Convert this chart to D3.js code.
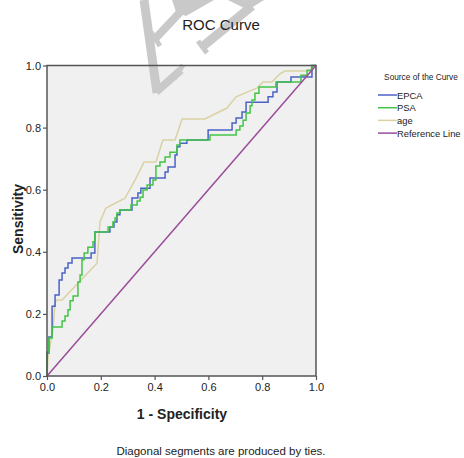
<!DOCTYPE html>
<html>
<head>
<meta charset="utf-8">
<script src="https://cdn.jsdelivr.net/npm/d3@7"></script>
<style>
  body { margin: 0; background: #fff; }
  text { font-family: "Liberation Sans", Arial, sans-serif; fill: #222; }
</style>
</head>
<body>
<div id="chart"></div>
<script>
// ROC points: [1 - specificity, sensitivity]
var epca = [[0,0],[0,.074],[.007,.074],[.007,.126],[.019,.126],[.019,.225],[.030,.225],[.030,.261],
  [.045,.261],[.045,.309],[.056,.309],[.056,.332],[.067,.332],[.067,.348],[.078,.348],[.078,.364],
  [.093,.364],[.093,.380],[.164,.380],[.164,.396],[.178,.396],[.178,.464],[.234,.464],[.234,.480],
  [.249,.480],[.249,.496],[.260,.496],[.260,.519],[.271,.519],[.271,.535],[.316,.535],[.316,.573],
  [.338,.573],[.338,.589],[.349,.589],[.349,.605],[.383,.605],[.383,.638],[.439,.638],[.439,.657],
  [.450,.657],[.450,.673],[.476,.673],[.476,.712],[.483,.712],[.483,.738],[.494,.738],[.494,.750],
  [.520,.750],[.520,.760],[.599,.760],[.599,.792],[.688,.792],[.688,.815],[.703,.815],[.703,.831],
  [.725,.831],[.725,.850],[.740,.850],[.740,.882],[.822,.882],[.822,.899],[.840,.899],[.840,.915],
  [.855,.915],[.855,.947],[.907,.947],[.907,.963],[.985,.963],[.985,1],[1,1]];

var psa = [[0,0],[0,.077],[.007,.077],[.007,.122],[.019,.122],[.019,.158],[.056,.158],[.056,.177],
  [.067,.177],[.067,.193],[.078,.193],[.078,.213],[.086,.213],[.086,.242],[.097,.242],[.097,.258],
  [.115,.258],[.115,.303],[.123,.303],[.123,.325],[.130,.325],[.130,.374],[.138,.374],[.138,.396],
  [.152,.396],[.152,.415],[.171,.415],[.171,.432],[.178,.432],[.178,.464],[.227,.464],[.227,.480],
  [.245,.480],[.245,.496],[.253,.496],[.253,.509],[.260,.509],[.260,.525],[.271,.525],[.271,.535],
  [.312,.535],[.312,.551],[.335,.551],[.335,.564],[.346,.564],[.346,.576],[.357,.576],[.357,.599],
  [.372,.599],[.372,.615],[.394,.615],[.394,.631],[.405,.631],[.405,.676],[.420,.676],[.420,.689],
  [.439,.689],[.439,.705],[.457,.705],[.457,.721],[.483,.721],[.483,.744],[.494,.744],[.494,.760],
  [.606,.760],[.606,.776],[.703,.776],[.703,.792],[.717,.792],[.717,.805],[.729,.805],[.729,.824],
  [.740,.824],[.740,.847],[.755,.847],[.755,.870],[.762,.870],[.762,.889],[.773,.889],[.773,.911],
  [.788,.911],[.788,.931],[.851,.931],[.851,.947],[.944,.947],[.944,.969],[.967,.969],[.967,.985],
  [.985,.985],[.985,1],[1,1]];

var age = [[0,0],[.004,.061],[.022,.148],[.030,.238],[.037,.245],[.056,.245],[.186,.363],[.197,.496],
  [.219,.541],[.290,.573],[.327,.631],[.361,.689],[.405,.689],[.431,.760],[.476,.760],[.502,.828],
  [.587,.828],[.669,.863],[.703,.899],[.781,.928],[.803,.947],[.836,.947],[.866,.973],[.885,.982],
  [.978,.982],[.985,.998],[1,1]];

var refLine = [[0,0],[1,1]];

var seriesNames = ["EPCA", "PSA", "age", "Reference Line"];
var seriesColors = ["#4b63c6", "#43c447", "#d9d2a3", "#9a4c9c"];
var tickValues = [0, 0.2, 0.4, 0.6, 0.8, 1.0];

var width = 464, height = 458;
var svg = d3.select("#chart").append("svg")
  .attr("width", width).attr("height", height);

var x = d3.scaleLinear().domain([0, 1]).range([47, 316]);
var y = d3.scaleLinear().domain([0, 1]).range([376, 65.5]);

//PLOT BACKGROUND
svg.append("rect")
  .attr("x", x(0)).attr("y", y(1))
  .attr("width", x(1) - x(0)).attr("height", y(0) - y(1))
  .attr("fill", "#f0f0f0");

//WATERMARK (grey strokes behind the title)
var wm = svg.append("g").attr("fill", "none").attr("stroke", "#c9c9c9")
  .attr("stroke-linecap", "butt");
wm.append("path").attr("d", "M144,0 L157,93").attr("stroke-width", 9);
wm.append("path").attr("d", "M156,92 L181,70").attr("stroke-width", 8);
wm.append("path").attr("d", "M154,40 L184,8").attr("stroke-width", 8);
wm.append("path").attr("d", "M151,32 L160,46").attr("stroke-width", 5);
wm.append("path").attr("d", "M202,47 L252,6").attr("stroke-width", 9);
wm.append("path").attr("d", "M198,41 L207,53").attr("stroke-width", 5);
wm.append("path").attr("d", "M174,79 L183,65").attr("stroke-width", 5);
wm.append("polygon").attr("points", "172,0 214,0 186,16 176,12")
  .attr("fill", "#c9c9c9").attr("stroke", "none");
wm.append("polygon").attr("points", "228,0 264,0 248,10")
  .attr("fill", "#c9c9c9").attr("stroke", "none");

//CURVES
var line = d3.line()
  .x(function(d){ return x(d[0]); })
  .y(function(d){ return y(d[1]); });

var allSeries = [epca, psa, age, refLine];
// draw age first so the step curves sit on top
[2, 0, 1, 3].forEach(function(i){
  svg.append("path")
    .datum(allSeries[i])
    .attr("d", line)
    .attr("fill", "none")
    .attr("stroke", seriesColors[i])
    .attr("stroke-width", 1.5);
});

//FRAME
svg.append("rect")
  .attr("x", x(0)).attr("y", y(1))
  .attr("width", x(1) - x(0)).attr("height", y(0) - y(1))
  .attr("fill", "none").attr("stroke", "#555").attr("stroke-width", 1.5);

//AXES
var fmt = d3.format(".1f");
var xAxis = svg.append("g")
  .attr("transform", "translate(0," + y(0) + ")")
  .call(d3.axisBottom(x).tickValues(tickValues).tickFormat(fmt).tickSize(4).tickPadding(3));
var yAxis = svg.append("g")
  .attr("transform", "translate(" + x(0) + ",0)")
  .call(d3.axisLeft(y).tickValues(tickValues).tickFormat(fmt).tickSize(4).tickPadding(2));
[xAxis, yAxis].forEach(function(a){
  a.select(".domain").remove();
  a.selectAll("line").attr("stroke", "#555").attr("stroke-width", 1.2);
  a.selectAll("text").style("font-family", "'Liberation Sans', Arial, sans-serif")
    .style("font-size", "11px").attr("fill", "#333");
});

//TITLES
svg.append("text")
  .attr("x", 221).attr("y", 30)
  .attr("text-anchor", "middle")
  .style("font-size", "15px")
  .text("ROC Curve");

svg.append("text")
  .attr("x", 182).attr("y", 419)
  .attr("text-anchor", "middle")
  .style("font-size", "14px").style("font-weight", "bold")
  .text("1 - Specificity");

svg.append("text")
  .attr("transform", "translate(23,219) rotate(-90)")
  .attr("text-anchor", "middle")
  .style("font-size", "14px").style("font-weight", "bold")
  .text("Sensitivity");

svg.append("text")
  .attr("x", 221).attr("y", 455)
  .attr("text-anchor", "middle")
  .style("font-size", "11.5px").attr("fill", "#333")
  .text("Diagonal segments are produced by ties.");

//LEGEND
var legend = svg.append("g").attr("transform", "translate(378,0)");
legend.append("text")
  .attr("x", 43).attr("y", 80)
  .attr("text-anchor", "middle")
  .style("font-size", "8.3px")
  .text("Source of the Curve");

var items = legend.selectAll("g.item")
  .data(seriesNames)
  .enter().append("g")
  .attr("class", "item")
  .attr("transform", function(d, i){ return "translate(0," + (95 + i * 12.7) + ")"; });
items.append("line")
  .attr("x1", 0).attr("x2", 19)
  .attr("stroke", function(d, i){ return seriesColors[i]; })
  .attr("stroke-width", 1.5);
items.append("text")
  .attr("x", 19).attr("y", 3.5)
  .style("font-size", "9.4px")
  .text(function(d){ return d; });
</script>
</body>
</html>
